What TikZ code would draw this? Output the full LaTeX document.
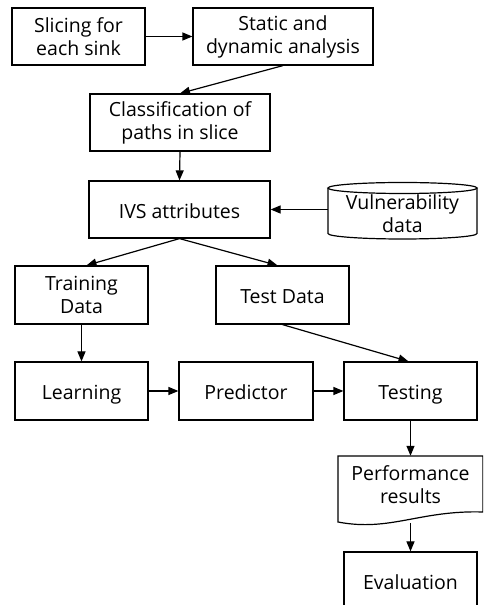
\documentclass[tikz,border=0pt]{standalone}
\usepackage{fontspec}
\setmainfont{Open Sans}
\usetikzlibrary{arrows.meta}

\begin{document}
\begin{tikzpicture}[x=1pt,y=1pt,
	kasten/.style={draw, line width=1.2pt, align=center, inner sep=0pt, minimum height=57pt, font=\fontsize{19.5}{23}\selectfont},
	zeile/.style={text height=20pt, text depth=2pt},
	schrift/.style={align=center, inner sep=0pt, font=\fontsize{19.5}{23}\selectfont},
	pfeil/.style={line width=1.2pt, -{Triangle[length=10pt,width=8pt]}}]
	\useasboundingbox (0,0) rectangle (483,605);
	\clip (0,0) rectangle (483,605);
	% Slicing und Analyse
	\node [kasten, minimum width=133pt] (slicing) at (78.5,568.5) {Slicing for\\each sink};
	\node [kasten, minimum width=180pt] (analyse) at (283,568.5) {Static and\\dynamic analysis};
	\node [kasten, minimum width=180pt] (klass) at (180,482.5) {Classification of\\paths in slice};
	\node [kasten, zeile, minimum width=181pt] (ivs) at (179.5,395.5) {IVS attributes};
	% Datenbank
	\draw [line width=1.2pt] (402.5,417) ellipse [x radius=74.5, y radius=5.5];
	\draw [line width=1.2pt] (328,417) -- (328,371.5) arc [start angle=180, end angle=360, x radius=74.5, y radius=5.5] -- (477,417);
	\node [schrift, minimum width=149pt] (vuln) at (402.5,391.5) {Vulnerability\\data};
	% Trainings- und Testdaten
	\node [kasten, minimum width=133pt, minimum height=58pt] (training) at (81.5,310) {Training\\Data};
	\node [kasten, zeile, minimum width=133pt, minimum height=58pt] (testdaten) at (282.5,310) {Test Data};
	% Lernen, Praediktor, Testen
	\node [kasten, zeile, minimum width=133pt, minimum height=58pt] (lernen) at (81.5,214) {Learning};
	\node [kasten, zeile, minimum width=134pt, minimum height=58pt] (praediktor) at (246,214) {Predictor};
	\node [kasten, zeile, minimum width=133pt, minimum height=58pt] (testen) at (410.5,214) {Testing};
	% Dokument
	\draw [line width=1.2pt] (338,149) -- (483,149) -- (483,93) .. controls (420,95) and (390,73) .. (338,83) -- cycle;
	\node [schrift, minimum width=145pt, minimum height=58pt] (ergebnis) at (410.5,120) {Performance\\results};
	\coordinate (welle) at (410.5,82);
	\node [kasten, zeile, minimum width=133pt, minimum height=58pt] (bewertung) at (410.5,24) {Evaluation};
	% Pfeile
	\draw [pfeil] (slicing.east) -- (analyse.west);
	\draw [pfeil] (analyse.south) -- (klass.north);
	\draw [pfeil] (klass.south) -- (ivs.north);
	\draw [pfeil] (vuln.west |- ivs.east) -- (ivs.east);
	\draw [pfeil] (ivs.south) -- ([xshift=5pt]training.north);
	\draw [pfeil] (ivs.south) -- ([xshift=-5pt]testdaten.north);
	\draw [pfeil] (training.south) -- (lernen.north);
	\draw [pfeil] (testdaten.south) -- ([xshift=-2pt]testen.north);
	\draw [pfeil] (lernen.east) -- (praediktor.west);
	\draw [pfeil] (praediktor.east) -- (testen.west);
	\draw [pfeil] (testen.south) -- (ergebnis.north);
	\draw [pfeil] (welle) -- (bewertung.north);
\end{tikzpicture}
\end{document}
